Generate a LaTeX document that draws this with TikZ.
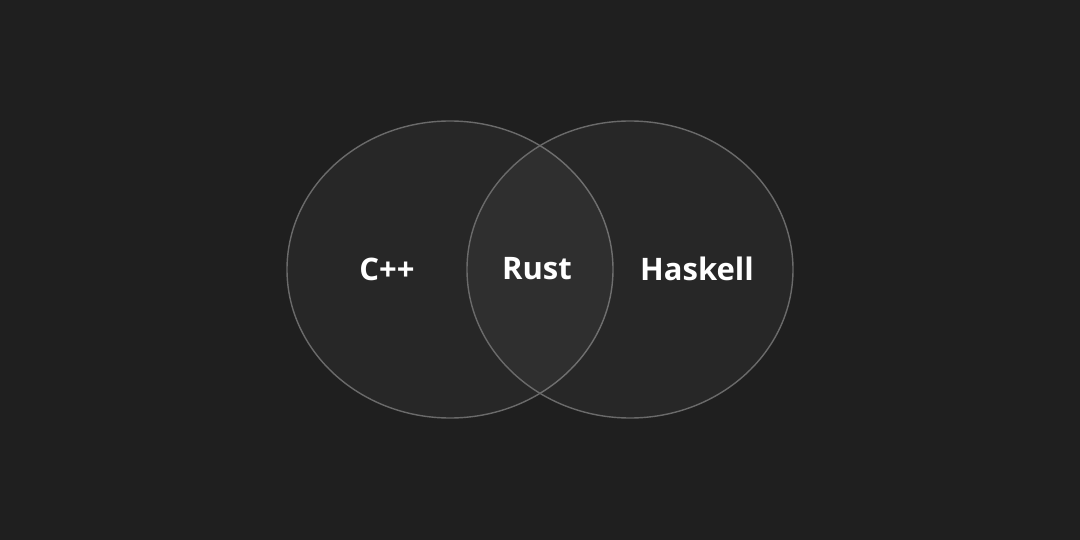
\documentclass[tikz,border=0pt]{standalone}
\usepackage{fontspec}
\setmainfont{Open Sans}
\usepackage{tikz}
\usetikzlibrary{positioning}
\definecolor{pagebg}{HTML}{1F1F1F}
\definecolor{ringline}{HTML}{6A6A6A}
\tikzset{
  langset/.style={
    draw=ringline, line width=1.4pt, fill=white, fill opacity=0.04,
    draw opacity=1
  },
  langlabel/.style={
    text=white, font=\fontsize{31}{34}\selectfont\bfseries, inner sep=0pt
  },
}

\begin{document}
\begin{tikzpicture}[x=1pt, y=-1pt]
  % --- Canvas ---
  \fill[pagebg] (0,0) rectangle (1080,540);
  \useasboundingbox (0,0) rectangle (1080,540);

  % --- Sets ---
  \draw[langset] (450,269.5) ellipse [x radius=163, y radius=148.5];
  \draw[langset] (630,269.5) ellipse [x radius=163, y radius=148.5];

  % --- Labels ---
  \node[langlabel] (cpp) at (387,269) {C++};
  \node[langlabel] (rust) at (537,269) {Rust};
  \node[langlabel] (haskell) at (697,269) {Haskell};
\end{tikzpicture}
\end{document}
